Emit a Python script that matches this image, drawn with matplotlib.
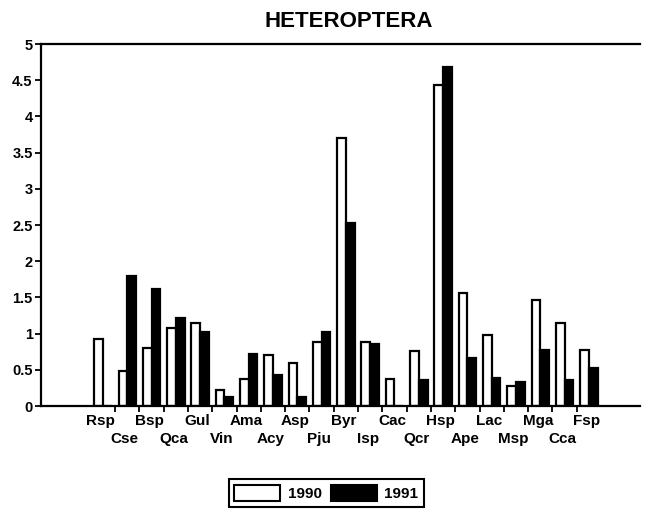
import matplotlib
matplotlib.use("Agg")
import matplotlib.pyplot as plt
import matplotlib.transforms as mtransforms
import numpy as np
from matplotlib.patches import Patch

categories = ["Rsp", "Cse", "Bsp", "Qca", "Gul", "Vin", "Ama", "Acy", "Asp", "Pju", "Byr",
              "Isp", "Cac", "Qcr", "Hsp", "Ape", "Lac", "Msp", "Mga", "Cca", "Fsp"]
v1990 = [0.92, 0.48, 0.80, 1.08, 1.14, 0.22, 0.37, 0.70, 0.59, 0.88, 3.70,
         0.88, 0.38, 0.76, 4.44, 1.56, 0.98, 0.27, 1.47, 1.15, 0.77]
v1991 = [0.00, 1.79, 1.62, 1.22, 1.02, 0.13, 0.72, 0.43, 0.13, 1.02, 2.53,
         0.86, 0.00, 0.36, 4.68, 0.66, 0.39, 0.33, 0.78, 0.36, 0.52]
yticks = [0, 0.5, 1, 1.5, 2, 2.5, 3, 3.5, 4, 4.5, 5]
ytick_labels = ["0", "0.5", "1", "1.5", "2", "2.5", "3", "3.5", "4", "4.5", "5"]

plt.rcParams['font.family'] = ['Liberation Sans', 'DejaVu Sans']
plt.rcParams['font.weight'] = 'bold'

fig = plt.figure(figsize=(6.46, 5.12), dpi=100)
ax = fig.add_axes([0.0635, 0.207, 0.927, 0.707])

x = np.arange(len(categories))
w = 0.36
ax.bar(x - w / 2, v1990, width=w, color="white", edgecolor="black", linewidth=1.6)
ax.bar(x + w / 2, v1991, width=w, color="black", edgecolor="black", linewidth=1.6)

ax.set_xlim(-2.55, 22.1)
ax.set_ylim(0, 5)
ax.set_yticks(yticks)
ax.set_yticklabels(ytick_labels, fontsize=10.5, fontweight='bold')

ax.set_xticks([])
ax.set_xticks(x[:-1] + 0.5, minor=True)
ax.tick_params(axis='x', which='minor', length=4, width=1.3, direction='out', labelbottom=False)
ax.tick_params(axis='y', length=4, width=1.3, direction='out', pad=2)

trans = mtransforms.blended_transform_factory(ax.transData, ax.transAxes)
for i, c in enumerate(categories):
    off = -15 if i % 2 == 0 else -33
    ax.annotate(c, xy=(x[i] - 0.1, 0), xycoords=trans, xytext=(0, off),
                textcoords='offset pixels', ha='center', va='center',
                fontsize=11, fontweight='bold')

for s in ['left', 'bottom', 'top']:
    ax.spines[s].set_linewidth(1.6)
ax.spines['right'].set_visible(False)

fig.text(0.54, 0.958, "HETEROPTERA", ha='center', va='center', fontsize=16, fontweight='bold')

handles = [Patch(facecolor='white', edgecolor='black', linewidth=1.5, label='1990'),
           Patch(facecolor='black', edgecolor='black', linewidth=1.5, label='1991')]
leg = fig.legend(handles=handles, loc='center', bbox_to_anchor=(0.505, 0.037), ncol=2,
                 fontsize=11, fancybox=False, edgecolor='black', framealpha=1,
                 handlelength=3.0, handleheight=1.3, columnspacing=0.6, handletextpad=0.5,
                 borderpad=0.35)
leg.get_frame().set_linewidth(1.5)

fig.savefig("out.png", dpi=100)
